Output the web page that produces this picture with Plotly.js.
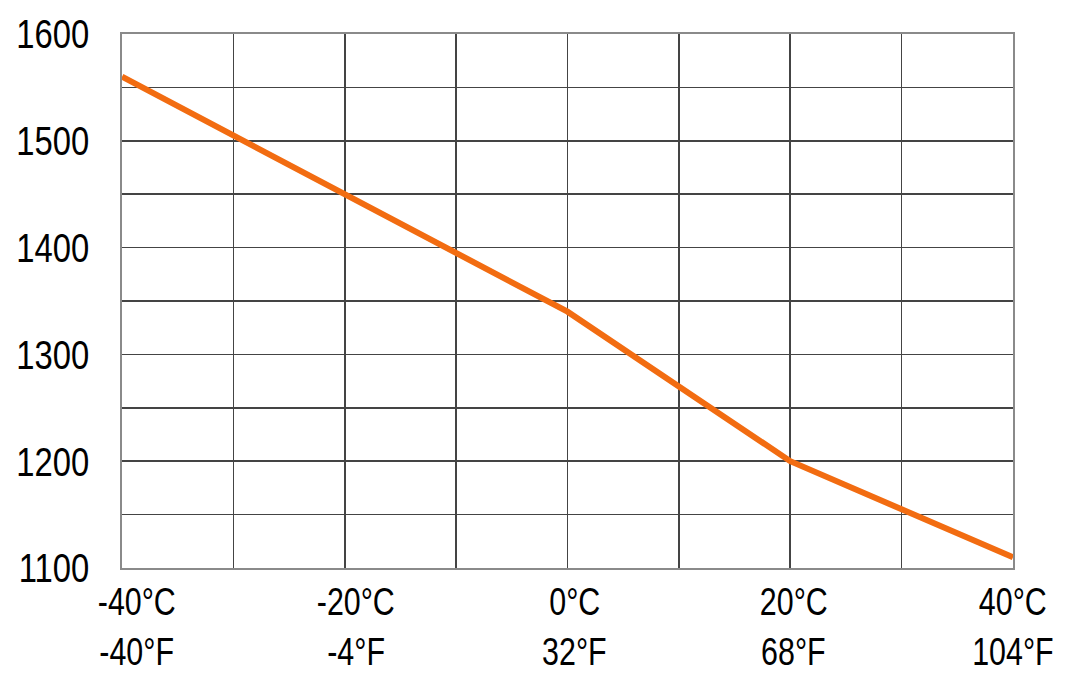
<!DOCTYPE html>
<html>
<head>
<meta charset="utf-8">
<script src="https://cdn.plot.ly/plotly-3.0.1.min.js"></script>
<style>
html,body{margin:0;padding:0;background:#fff}
#chart{width:1072px;height:690px}
</style>
</head>
<body>
<div id="chart"></div>
<script>
const tempC = [-40, -30, -20, -10, 0, 10, 20, 30, 40];
const values = [1560, 1505, 1450, 1395, 1340, 1270, 1200, 1155, 1110];
const xGridVals = [-40, -30, -20, -10, 0, 10, 20, 30, 40];
const xLabelVals = [-40, -20, 0, 20, 40];
const xTickC = ['-40°C', '-20°C', '0°C', '20°C', '40°C'];
const xTickF = ['-40°F', '-4°F', '32°F', '68°F', '104°F'];
const yGridVals = [1100, 1150, 1200, 1250, 1300, 1350, 1400, 1450, 1500, 1550, 1600];
const yTickText = ['1100', '', '1200', '', '1300', '', '1400', '', '1500', '', '1600'];

const FONT = '"Liberation Sans", Arial, sans-serif';

const annotations = xLabelVals.map((v, i) => ({
  x: v, xref: 'x2', y: 0, yref: 'paper', yshift: -84,
  text: xTickF[i], showarrow: false, yanchor: 'middle', xanchor: 'center',
  font: {family: FONT, size: 38, color: '#000'}
}));

Plotly.newPlot('chart', [
  {
    x: tempC, y: values, type: 'scatter', mode: 'lines',
    line: {color: '#f26c11', width: 6},
    hoverinfo: 'skip'
  },
  {
    x: xLabelVals, y: xLabelVals.map(() => null), xaxis: 'x2', type: 'scatter',
    mode: 'lines', showlegend: false, hoverinfo: 'skip'
  }
], {
  width: 1072, height: 690,
  margin: {l: 122, r: 59, t: 34, b: 122},
  paper_bgcolor: '#fff', plot_bgcolor: '#fff',
  showlegend: false,
  font: {family: FONT, size: 38, color: '#000'},
  xaxis: {
    range: [-40, 40], tickmode: 'array', tickvals: xGridVals, showticklabels: false,
    showgrid: true, gridcolor: '#444', gridwidth: 1.6,
    showline: true, mirror: true, linecolor: '#8a8a8a', linewidth: 1.6,
    zeroline: false, ticks: ''
  },
  xaxis2: {
    overlaying: 'x', side: 'bottom', anchor: 'y',
    range: [-41.35, 40.02], tickmode: 'array', tickvals: xLabelVals, ticktext: xTickC,
    showgrid: false, showline: false, zeroline: false, ticks: '', ticklabelstandoff: 8,
    tickfont: {family: FONT, size: 38, color: '#000'}
  },
  yaxis: {
    range: [1100, 1600], tickmode: 'array', tickvals: yGridVals, ticktext: yTickText,
    showgrid: true, gridcolor: '#444', gridwidth: 1.6,
    showline: true, mirror: true, linecolor: '#8a8a8a', linewidth: 1.6,
    zeroline: false, ticks: '', ticklabelstandoff: 23,
    tickfont: {family: FONT, size: 41, color: '#000'}
  },
  annotations: annotations
}, {staticPlot: true}).then(gd => {
  // narrow the labels horizontally to imitate a condensed typeface
  const sx = 0.8;
  gd.querySelectorAll('.xtick text, .x2tick text, .ytick text, .annotation-text').forEach(t => {
    const x = parseFloat(t.getAttribute('x') || '0');
    const prev = t.getAttribute('transform') || '';
    t.setAttribute('transform', prev + ` translate(${x},0) scale(${sx},1) translate(${-x},0)`);
  });
});
</script>
</body>
</html>
